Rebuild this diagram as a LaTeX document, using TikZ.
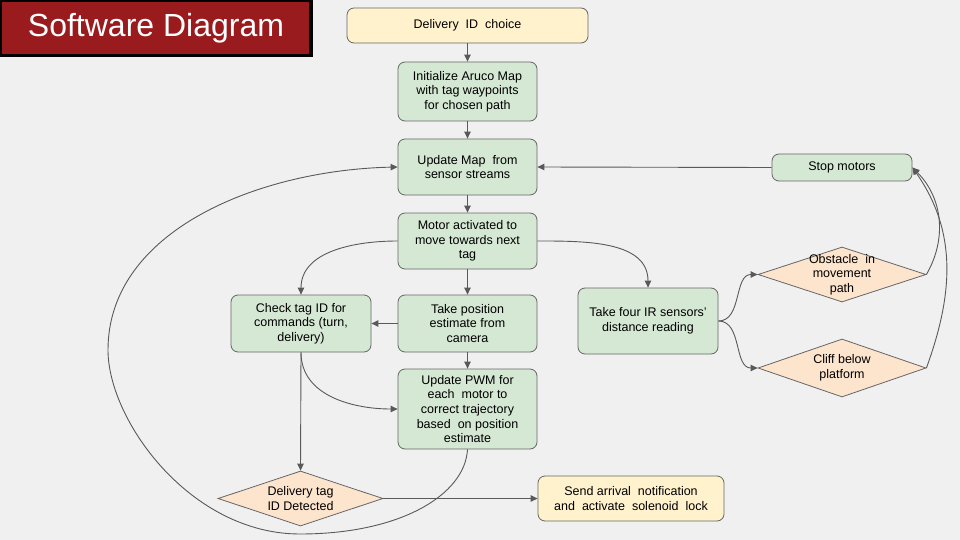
\documentclass[tikz,border=0pt]{standalone}
\usepackage{fontspec}
\setmainfont{Liberation Sans}
\usetikzlibrary{shapes.geometric,arrows.meta}
\definecolor{bg}{HTML}{F0F0F0}
\definecolor{titlered}{HTML}{991B1E}
\definecolor{greenf}{HTML}{D5E8D4}
\definecolor{yelf}{HTML}{FFF2CC}
\definecolor{peach}{HTML}{FCE4CD}
\definecolor{bordc}{HTML}{666666}
\definecolor{arrc}{HTML}{595959}
\begin{document}
\begin{tikzpicture}[x=1pt,y=1pt,
  txt/.style={font=\fontsize{12.5}{14.7}\selectfont, align=center, text=black},
  box/.style={txt, draw=bordc, line width=0.8pt, rounded corners=7pt, inner sep=0pt},
  greenbox/.style={box, fill=greenf},
  yelbox/.style={box, fill=yelf},
  dia/.style={diamond, draw=bordc, fill=peach, line width=0.8pt, inner sep=0pt},
  arr/.style={draw=arrc, line width=0.9pt, -{Triangle[length=7pt,width=6.5pt]}}]
\useasboundingbox (0,0) rectangle (960,-540);
\fill[bg] (0,0) rectangle (960,-540);
% title
\fill[black] (0,0) rectangle (313,-57);
\fill[titlered] (2,-2) rectangle (309,-54);
\node[text=white, font=\fontsize{32}{36}\selectfont, inner sep=0pt] (title) at (156,-28) {Software Diagram};
% nodes
\node[yelbox, minimum width=241, minimum height=35] (choice) at (467.5,-25.5) {Delivery\ \ ID\ \ choice};
\node[greenbox, minimum width=139, minimum height=59] (init) at (467.5,-91.5) {Initialize Aruco Map\\with tag waypoints\\for chosen path};
\node[greenbox, minimum width=139, minimum height=56] (upd) at (467.5,-167) {Update Map\ \ from\\sensor streams};
\node[greenbox, minimum width=139, minimum height=56] (motor) at (467.5,-241) {Motor activated to\\move towards next\\tag};
\node[greenbox, minimum width=139, minimum height=57] (pos) at (467.5,-323.5) {Take position\\estimate from\\camera};
\node[greenbox, minimum width=140, minimum height=57] (check) at (301,-323.5) {Check tag ID for\\commands (turn,\\delivery)};
\node[greenbox, minimum width=139, minimum height=80] (pwm) at (467.5,-409) {Update PWM for\\each\ \ motor to\\correct trajectory\\based\ \ on position\\estimate};
\node[dia, minimum width=165, minimum height=55] (deliv) at (300.5,-498.5) {};
\node[txt] (delivt) at (deliv.center) {Delivery tag\\ID Detected};
\node[yelbox, minimum width=186, minimum height=45] (send) at (631,-498.5) {Send arrival\ \ notification\\and\ \ activate\ \ solenoid\ \ lock};
\node[greenbox, minimum width=140, minimum height=66] (ir) at (648,-321) {Take four IR sensors’\\distance reading};
\node[greenbox, minimum width=140, minimum height=27] (stop) at (842,-167.5) {Stop motors};
\node[dia, minimum width=168, minimum height=55] (obst) at (842,-274.5) {};
\node[txt] (obstt) at (obst.center) {Obstacle\ \ in\\movement\\path};
\node[dia, minimum width=168, minimum height=58] (cliff) at (842,-368) {};
\node[txt] (clifft) at (cliff.center) {Cliff below\\platform};
% connectors
\draw[arr] (choice) -- (init);
\draw[arr] (init) -- (upd);
\draw[arr] (upd) -- (motor);
\draw[arr] (motor) -- (pos);
\draw[arr] (pos) -- (check);
\draw[arr] (pos) -- (pwm);
\draw[arr] (motor.west) to[out=180,in=90] (check.north);
\draw[arr] (motor.east) to[out=0,in=90] (ir.north);
\draw[arr] (check.south) to[out=-90,in=180] (pwm.west);
\draw[arr] (check.south) -- (deliv.north);
\draw[arr] (deliv.east) -- (send.west);
\draw[arr] (stop.west) -- (upd.east);
\draw[arr] (ir.east) to[out=0,in=180] (obst.west);
\draw[arr] (ir.east) to[out=0,in=180] (cliff.west);
\draw[arr] (obst.east) to[out=60,in=-45] (stop.east);
\draw[arr] (cliff.east) to[out=70,in=-55] (stop.east);
\draw[arr] (pwm.south) .. controls (465,-495) and (400,-534) .. (300,-534)
  .. controls (190,-534) and (108,-420) .. (108,-350)
  .. controls (108,-230) and (260,-170) .. (upd.west);
\end{tikzpicture}
\end{document}
